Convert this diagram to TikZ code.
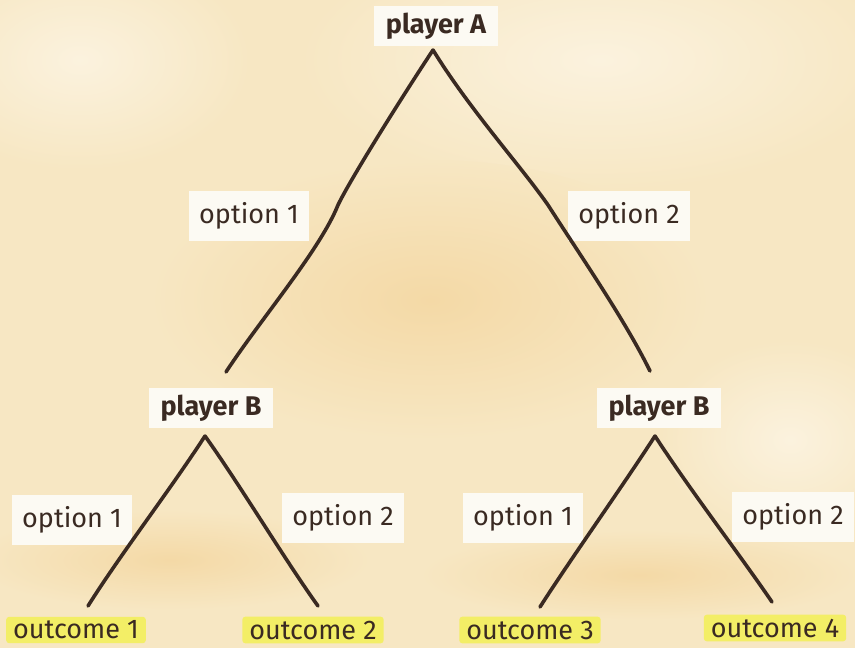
\documentclass[tikz,border=0pt]{standalone}
\usepackage{fontspec}
\setmainfont{Fira Sans}
\definecolor{bgcream}{HTML}{F7E7C3}
\definecolor{bglight}{HTML}{FBF2DE}
\definecolor{bgwarm}{HTML}{F4D9A6}
\definecolor{labelbg}{HTML}{FCFAF3}
\definecolor{hl}{HTML}{F3EE66}
\definecolor{ink}{HTML}{3A2A22}
\tikzset{
  branch/.style={draw=ink, line width=3.6pt, line cap=round, line join=round},
  playerlbl/.style={fill=labelbg, text=ink, font=\fontsize{27}{30}\selectfont\bfseries, inner xsep=12pt, inner ysep=7pt},
  optlbl/.style={fill=labelbg, text=ink, font=\fontsize{27}{30}\selectfont\light, inner xsep=10pt, inner ysep=12pt},
  outlbl/.style={fill=hl, text=ink, font=\fontsize{27}{30}\selectfont, inner xsep=7pt, inner ysep=4pt, rounded corners=3pt},
  wash/.style={inner color=#1, outer color=bgcream}
}
\providecommand\light{}
\begin{document}
\begin{tikzpicture}[x=1pt,y=-1pt]
\useasboundingbox (0,0) rectangle (855,648);
% background wash
\fill[bgcream] (0,0) rectangle (855,648);
\shade[inner color=bglight, outer color=bgcream] (600,60) ellipse (300 and 130);
\shade[inner color=bglight, outer color=bgcream] (80,60) ellipse (170 and 110);
\shade[inner color=bgwarm, outer color=bgcream] (430,300) ellipse (280 and 140);
\shade[inner color=bgwarm, outer color=bgcream] (170,560) ellipse (200 and 50);
\shade[inner color=bgwarm, outer color=bgcream] (640,575) ellipse (220 and 45);
\shade[inner color=bglight, outer color=bgcream] (790,440) ellipse (130 and 100);

% labels
\node[playerlbl] (pa) at (436,26) {player A};
\node[optlbl] (o1) at (249,216) {option 1};
\node[optlbl] (o2) at (629,216) {option 2};
\node[playerlbl] (pbl) at (211,408) {player B};
\node[playerlbl] (pbr) at (659,408) {player B};
\node[optlbl] (o11) at (72,520) {option 1};
\node[optlbl] (o12) at (343,518) {option 2};
\node[optlbl] (o21) at (523,518) {option 1};
\node[optlbl] (o22) at (793,517) {option 2};
\node[outlbl] (r1) at (76,630) {outcome 1};
\node[outlbl] (r2) at (313,630) {outcome 2};
\node[outlbl] (r3) at (530,630) {outcome 3};
\node[outlbl] (r4) at (775,628) {outcome 4};

% branch points
\coordinate (ta) at (433,50);
\coordinate (la) at (226,372);
\coordinate (ra) at (650,371);
\coordinate (tbl) at (205,436);
\coordinate (tbr) at (655,436);
\coordinate (e1) at (88,606);
\coordinate (e2) at (318,606);
\coordinate (e3) at (540,607);
\coordinate (e4) at (772,602);

% branches
\draw[branch] (la) .. controls (260,320) and (320,250) .. (338,205) .. controls (350,180) and (400,100) .. (ta);
\draw[branch] (ta) .. controls (470,110) and (520,165) .. (548,205) .. controls (580,255) and (625,320) .. (ra);
\draw[branch] (e1) .. controls (120,555) and (170,490) .. (tbl);
\draw[branch] (tbl) .. controls (240,485) and (285,560) .. (e2);
\draw[branch] (e3) .. controls (570,560) and (620,490) .. (tbr);
\draw[branch] (tbr) .. controls (690,490) and (740,555) .. (e4);
\end{tikzpicture}
\end{document}
